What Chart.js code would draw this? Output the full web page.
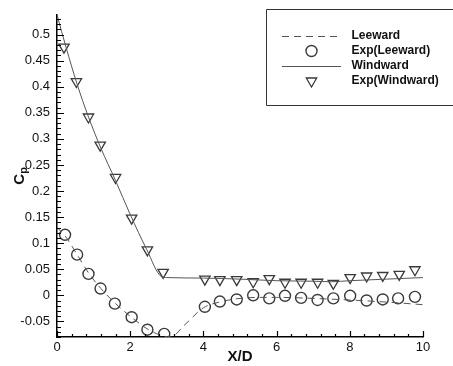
<!DOCTYPE html>
<html>
<head>
<meta charset="utf-8">
<script src="https://cdn.jsdelivr.net/npm/chart.js@4.4.1/dist/chart.umd.min.js"></script>
<style>
  html, body { margin: 0; padding: 0; background: #fff; }
  #wrap { width: 453px; height: 366px; }
</style>
</head>
<body>
<div id="wrap"><canvas id="cp" width="453" height="366"></canvas></div>
<script>
// pressure coefficient along the plate
var legendLabels = ['Leeward', 'Exp(Leeward)', 'Windward', 'Exp(Windward)'];

var leewardX = [0, 0.22, 0.55, 0.86, 1.2, 1.6, 2.05, 2.5, 2.85, 3.1, 3.5, 4.0, 4.5, 5.0, 5.5, 6.0, 7.0, 8.0, 9.0, 10.0];
var leewardY = [0.13, 0.114, 0.078, 0.043, 0.013, -0.016, -0.043, -0.066, -0.077, -0.08, -0.056, -0.024, -0.012, -0.006, -0.004, -0.004, -0.006, -0.009, -0.013, -0.018];

var expLeewardX = [0.22, 0.55, 0.86, 1.19, 1.58, 2.04, 2.47, 2.93, 4.04, 4.45, 4.91, 5.36, 5.8, 6.23, 6.67, 7.12, 7.55, 8.01, 8.46, 8.9, 9.32, 9.78];
var expLeewardY = [0.116, 0.078, 0.041, 0.013, -0.016, -0.042, -0.066, -0.074, -0.022, -0.012, -0.008, 0.0, -0.006, -0.001, -0.005, -0.009, -0.006, -0.001, -0.01, -0.008, -0.006, -0.003];

var windwardX = [0, 0.25, 0.54, 0.86, 1.2, 1.6, 2.0, 2.45, 2.85, 3.0, 4.0, 5.0, 6.0, 7.0, 7.5, 8.0, 9.0, 10.0];
var windwardY = [0.538, 0.475, 0.407, 0.342, 0.282, 0.22, 0.155, 0.088, 0.036, 0.034, 0.033, 0.031, 0.028, 0.027, 0.026, 0.028, 0.031, 0.034];

var expWindwardX = [0.19, 0.53, 0.86, 1.18, 1.6, 2.04, 2.47, 2.9, 4.04, 4.45, 4.91, 5.36, 5.8, 6.23, 6.67, 7.12, 7.55, 8.01, 8.46, 8.9, 9.35, 9.78];
var expWindwardY = [0.476, 0.41, 0.342, 0.288, 0.226, 0.148, 0.087, 0.044, 0.031, 0.030, 0.030, 0.026, 0.032, 0.025, 0.025, 0.025, 0.023, 0.034, 0.037, 0.038, 0.040, 0.049];

var xRange = [0, 10];
var yRange = [-0.08, 0.538];

function pts(xs, ys) {
  return xs.map(function (x, i) { return { x: x, y: ys[i] }; });
}

var FONT = "'Liberation Sans', Arial, sans-serif";
var lineGrey = '#555';
var markGrey = '#3a3a3a';

// ticks point into the plot, with minor ticks in between
var innerTicks = {
  id: 'innerTicks',
  afterDraw: function (chart) {
    var ctx = chart.ctx, xs = chart.scales.x, ys = chart.scales.y;
    var a = chart.chartArea;
    ctx.save();
    ctx.strokeStyle = '#000';
    ctx.lineWidth = 1.2;
    ctx.beginPath();
    for (var i = 0; i <= 25; i++) {
      var v = i * 0.4;
      var px = Math.round(xs.getPixelForValue(v)) + 0.5;
      var len = (i % 5 === 0) ? 6 : 3;
      ctx.moveTo(px, a.bottom);
      ctx.lineTo(px, a.bottom - len);
    }
    for (var j = -8; j <= 53; j++) {
      var py = Math.round(ys.getPixelForValue(j / 100)) + 0.5;
      var l2 = (j % 5 === 0) ? 7 : 4;
      ctx.moveTo(a.left, py);
      ctx.lineTo(a.left + l2, py);
    }
    ctx.stroke();

    // y title: C with subscript p
    ctx.translate(20, (a.top + a.bottom) / 2);
    ctx.rotate(-Math.PI / 2);
    ctx.fillStyle = '#111';
    ctx.textBaseline = 'middle';
    ctx.font = 'bold 15px ' + FONT;
    var cw = ctx.measureText('C').width;
    ctx.font = 'bold 11px ' + FONT;
    var pw = ctx.measureText('p').width;
    var sx = -(cw + pw) / 2;
    ctx.font = 'bold 15px ' + FONT;
    ctx.textAlign = 'left';
    ctx.fillText('C', sx, 0);
    ctx.font = 'bold 11px ' + FONT;
    ctx.fillText('p', sx + cw, 4);
    ctx.restore();
  }
};

// boxed legend in the top right corner, open on the right
var boxLegend = {
  id: 'boxLegend',
  afterDraw: function (chart) {
    var ctx = chart.ctx;
    var left = 266.5, top = 9.5, bottom = 105.5, right = 460, rowH = 15, firstRow = 36;
    ctx.save();
    ctx.fillStyle = '#fff';
    ctx.fillRect(left, top, right - left, bottom - top);
    ctx.strokeStyle = '#333';
    ctx.lineWidth = 1;
    ctx.beginPath();
    ctx.moveTo(right, top);
    ctx.lineTo(left, top);
    ctx.lineTo(left, bottom);
    ctx.lineTo(right, bottom);
    ctx.stroke();
    chart.data.datasets.forEach(function (ds, i) {
      var y = firstRow + i * rowH;
      if (ds.showLine) {
        ctx.strokeStyle = ds.borderColor;
        ctx.lineWidth = ds.borderWidth;
        ctx.setLineDash(ds.borderDash || []);
        ctx.beginPath();
        ctx.moveTo(282, y + 0.5);
        ctx.lineTo(341, y + 0.5);
        ctx.stroke();
        ctx.setLineDash([]);
      } else {
        ctx.fillStyle = 'rgba(0,0,0,0)';
        ctx.strokeStyle = ds.pointBorderColor;
        ctx.lineWidth = ds.pointBorderWidth;
        Chart.helpers.drawPoint(ctx, {
          pointStyle: ds.pointStyle,
          rotation: ds.pointRotation || 0,
          radius: ds.pointRadius,
          borderWidth: ds.pointBorderWidth
        }, 311.5, y);
      }
      ctx.fillStyle = '#111';
      ctx.font = 'bold 12px ' + FONT;
      ctx.textBaseline = 'middle';
      ctx.textAlign = 'left';
      ctx.fillText(ds.label, 351.5, y);
    });
    ctx.restore();
  }
};

var config = {
  type: 'scatter',
  data: {
    datasets: [
      {
        label: legendLabels[0],
        data: pts(leewardX, leewardY),
        showLine: true,
        borderColor: lineGrey,
        borderWidth: 1,
        borderDash: [7, 5],
        pointRadius: 0,
        cubicInterpolationMode: 'monotone'
      },
      {
        label: legendLabels[1],
        data: pts(expLeewardX, expLeewardY),
        showLine: false,
        pointStyle: 'circle',
        pointRadius: 5.5,
        pointBorderWidth: 1.4,
        pointBorderColor: markGrey,
        pointBackgroundColor: 'rgba(0,0,0,0)'
      },
      {
        label: legendLabels[2],
        data: pts(windwardX, windwardY),
        showLine: true,
        borderColor: lineGrey,
        borderWidth: 1,
        pointRadius: 0,
        cubicInterpolationMode: 'monotone'
      },
      {
        label: legendLabels[3],
        data: pts(expWindwardX, expWindwardY),
        showLine: false,
        pointStyle: 'triangle',
        pointRotation: 180,
        rotation: 180,
        pointRadius: 6,
        pointBorderWidth: 1.3,
        pointBorderColor: markGrey,
        pointBackgroundColor: 'rgba(0,0,0,0)'
      }
    ]
  },
  options: {
    responsive: false,
    animation: false,
    devicePixelRatio: 1,
    layout: { padding: { left: 0, right: 30, top: 11, bottom: 0 } },
    plugins: {
      legend: { display: false },
      tooltip: { enabled: false }
    },
    scales: {
      x: {
        type: 'linear',
        min: xRange[0],
        max: xRange[1],
        grid: { display: false, drawTicks: false },
        border: { display: true, color: '#000', width: 1.5 },
        ticks: {
          stepSize: 2,
          padding: 3,
          color: '#111',
          font: { family: FONT, size: 13 }
        },
        title: {
          display: true,
          text: 'X/D',
          color: '#111',
          padding: { top: 4, bottom: 0 },
          font: { family: FONT, size: 15, weight: 'bold' }
        },
        afterFit: function (s) { s.height = 29; }
      },
      y: {
        type: 'linear',
        min: yRange[0],
        max: yRange[1],
        grid: { display: false, drawTicks: false },
        border: { display: true, color: '#000', width: 1.5 },
        ticks: {
          stepSize: 0.05,
          includeBounds: false,
          padding: 7,
          color: '#111',
          font: { family: FONT, size: 13 },
          callback: function (v) { return String(parseFloat(v.toFixed(2))); }
        },
        afterFit: function (s) { s.width = 57; }
      }
    }
  },
  plugins: [innerTicks, boxLegend]
};

new Chart(document.getElementById('cp').getContext('2d'), config);
</script>
</body>
</html>
